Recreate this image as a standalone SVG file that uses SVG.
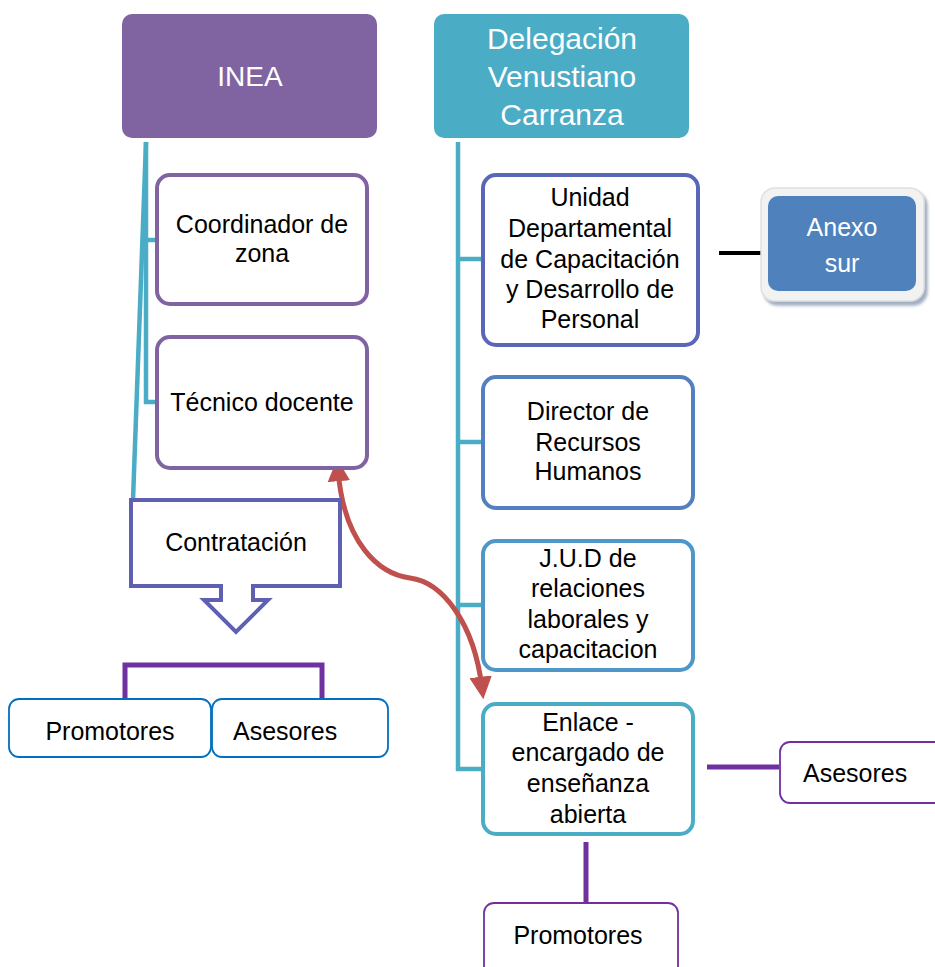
<svg xmlns="http://www.w3.org/2000/svg" width="935" height="967" viewBox="0 0 935 967">
<style>
text{font-family:"Liberation Sans",Arial,sans-serif;fill:#000;text-anchor:middle}
.t{font-size:25px}
.w{fill:#fff}
.box{fill:#fff;stroke-width:4}
.teal{stroke:#4BACC6;stroke-width:4.5;fill:none}
.pur{stroke:#7030A0;stroke-width:5;fill:none}
</style>
<defs>
<marker id="ah" viewBox="0 0 10 10" refX="5" refY="5" markerWidth="4.5" markerHeight="4.5" orient="auto-start-reverse" markerUnits="strokeWidth">
<path d="M0,0 L10,5 L0,10 z" fill="#C0504D"/>
</marker>
<filter id="sh" x="-10%" y="-10%" width="130%" height="130%">
<feDropShadow dx="3" dy="4" stdDeviation="1.5" flood-color="#8a9bb5" flood-opacity="0.8"/>
</filter>
</defs>

<g id="connectors">
<path class="teal" d="M146,142 L146,402 L157,402"/>
<path class="teal" d="M146,142 L133,500"/>
<path class="teal" d="M146,240 L157,240"/>
<path class="teal" d="M458,142 L458,769 L483,769"/>
<path class="teal" d="M458,259 L483,259"/>
<path class="teal" d="M458,442 L483,442"/>
<path class="teal" d="M458,605 L483,605"/>
<path d="M719,253 L761,253" stroke="#000" stroke-width="4"/>
<path class="pur" d="M125,698 L125,665 L322,665 L322,698"/>
<path class="pur" d="M707,767 L779,767"/>
<path class="pur" d="M586,842 L586,903" stroke-width="6"/>
<path d="M338,470 C344,545 380,574 410,578 C442,582 474,622 482,688" fill="none" stroke="#C0504D" stroke-width="5" marker-start="url(#ah)" marker-end="url(#ah)"/>
</g>

<g id="inea">
<rect x="122" y="14" width="255" height="124" rx="10" fill="#8064A2"/>
<text class="w" x="250" y="86" font-size="28">INEA</text>
</g>

<g id="delegacion">
<rect x="434" y="14" width="255" height="124" rx="10" fill="#4BACC6"/>
<text class="w" x="562" y="49" font-size="30">Delegación</text>
<text class="w" x="562" y="87" font-size="30">Venustiano</text>
<text class="w" x="562" y="125" font-size="30">Carranza</text>
</g>

<g id="coordinador">
<rect class="box" x="157" y="175" width="210" height="129" rx="13" stroke="#8064A2"/>
<text class="t" x="262" y="233">Coordinador de</text>
<text class="t" x="262" y="262">zona</text>
</g>

<g id="tecnico">
<rect class="box" x="157" y="337" width="210" height="131" rx="13" stroke="#8064A2"/>
<text class="t" x="262" y="411">Técnico docente</text>
</g>

<g id="contratacion">
<path d="M131,500 L340,500 L340,586 L253,586 L253,600 L268,600 L236,632 L204,600 L221,600 L221,586 L131,586 Z" fill="#fff" stroke="#6060B2" stroke-width="4" stroke-linejoin="miter"/>
<text class="t" x="236" y="551">Contratación</text>
</g>

<g id="promotores-izq">
<rect x="9" y="699" width="202" height="58" rx="10" fill="#fff" stroke="#0070C0" stroke-width="1.8"/>
<text class="t" x="110" y="740">Promotores</text>
</g>

<g id="asesores-izq">
<rect x="212" y="699" width="176" height="58" rx="10" fill="#fff" stroke="#0070C0" stroke-width="1.8"/>
<text class="t" x="233" y="740" style="text-anchor:start">Asesores</text>
</g>

<g id="unidad">
<rect class="box" x="483" y="175" width="215" height="170" rx="13" stroke="#5A66B8"/>
<text class="t" x="590" y="206">Unidad</text>
<text class="t" x="590" y="237">Departamental</text>
<text class="t" x="590" y="268">de Capacitación</text>
<text class="t" x="590" y="298">y Desarrollo de</text>
<text class="t" x="590" y="328">Personal</text>
</g>

<g id="anexo">
<rect x="761" y="188" width="163" height="113" rx="14" fill="#F2F2F2" stroke="#E0E0E0" stroke-width="1.5" filter="url(#sh)"/>
<rect x="768" y="196" width="148" height="95" rx="10" fill="#4F81BD"/>
<text class="w" x="842" y="236" font-size="25">Anexo</text>
<text class="w" x="842" y="272" font-size="25">sur</text>
</g>

<g id="director">
<rect class="box" x="483" y="377" width="210" height="131" rx="13" stroke="#5580C0"/>
<text class="t" x="588" y="420">Director de</text>
<text class="t" x="588" y="451">Recursos</text>
<text class="t" x="588" y="480">Humanos</text>
</g>

<g id="jud">
<rect class="box" x="483" y="541" width="210" height="129" rx="13" stroke="#4F97C8"/>
<text class="t" x="588" y="567">J.U.D de</text>
<text class="t" x="588" y="597">relaciones</text>
<text class="t" x="588" y="628">laborales y</text>
<text class="t" x="588" y="658">capacitacion</text>
</g>

<g id="enlace">
<rect class="box" x="483" y="704" width="210" height="130" rx="13" stroke="#4BACC6"/>
<text class="t" x="588" y="731">Enlace -</text>
<text class="t" x="588" y="761">encargado de</text>
<text class="t" x="588" y="792">enseñanza</text>
<text class="t" x="588" y="823">abierta</text>
</g>

<g id="asesores-der">
<rect x="780" y="742" width="170" height="61" rx="10" fill="#fff" stroke="#7030A0" stroke-width="1.8"/>
<text class="t" x="803" y="782" style="text-anchor:start">Asesores</text>
</g>

<g id="promotores-der">
<rect x="484" y="903" width="194" height="80" rx="10" fill="#fff" stroke="#7030A0" stroke-width="1.8"/>
<text class="t" x="578" y="944">Promotores</text>
</g>
</svg>
